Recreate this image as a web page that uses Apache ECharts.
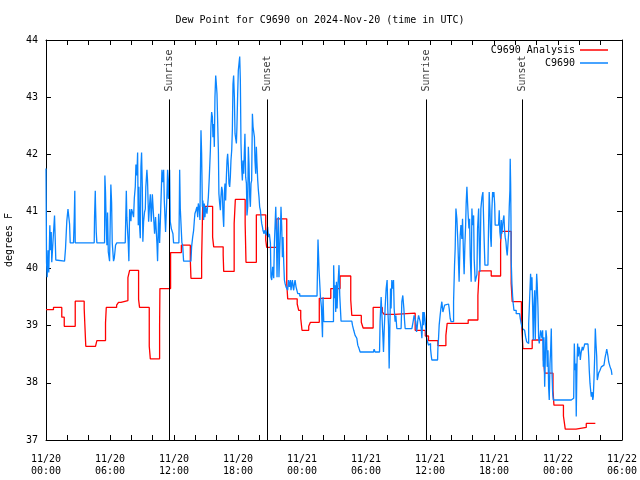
<!DOCTYPE html>
<html><head><meta charset="utf-8">
<script src="https://cdn.jsdelivr.net/npm/echarts@6/dist/echarts.min.js"></script>
<style>html,body{margin:0;padding:0;background:#fff}#c{width:640px;height:480px}</style>
</head><body><div id="c"></div>
<script>
// hours since 2024-11-20 00:00 UTC
const anaHours = [0,0.70,1.48,1.71,2.74,3.58,3.64,3.73,4.64,4.77,5.58,5.65,6.62,6.80,7.02,7.68,7.84,8.68,8.77,9.68,9.78,10.65,10.68,11.68,12.69,13.53,13.59,14.59,14.69,15.62,15.72,16.61,16.66,17.64,17.75,18.67,18.75,19.72,20.60,20.69,21.63,22.57,22.66,23.55,23.69,23.88,24.00,24.63,24.79,25.62,26.70,27.57,28.57,28.67,29.56,29.73,30.67,31.53,31.70,32.67,34.61,35.56,35.86,36.74,37.49,37.61,39.58,40.49,40.61,41.74,42.62,42.68,43.61,43.71,44.57,44.71,45.58,46.64,46.75,47.53,47.62,48.51,48.68,49.69,50.65,51.50];
const anaDewF = [39.28,39.32,39.15,38.99,39.43,39.30,39.03,38.64,38.67,38.74,39.05,39.32,39.36,39.41,39.44,39.84,39.97,39.46,39.32,38.64,38.42,38.99,39.65,40.28,40.41,40.15,39.83,40.15,41.09,40.55,40.38,40.24,39.95,40.79,41.21,40.79,40.11,40.94,40.50,40.37,40.87,39.74,39.47,39.38,39.27,39.13,38.92,38.99,39.06,39.48,39.65,39.87,39.45,39.18,39.06,38.96,39.32,39.24,39.20,39.22,38.92,38.82,38.74,38.65,38.83,39.04,39.10,39.53,39.96,39.87,40.44,40.65,39.74,39.42,39.10,38.60,38.75,38.40,38.17,37.87,37.61,37.42,37.19,37.22,37.29,37.29];

// observed readings: [hour, dew point F]
const obsReadings = [
[0,41.75],[0.05,40.11],[0.11,39.85],[0.19,40.32],[0.26,39.93],[0.36,40.76],[0.42,40.32],[0.49,40.64],[0.54,40.11],[0.66,40.49],[0.80,40.93],[0.92,40.15],[1.08,40.13],[1.74,40.13],[1.83,40.35],[1.95,40.83],[2.06,41.04],[2.14,40.90],[2.21,40.78],[2.27,40.45],[2.58,40.45],[2.65,40.90],[2.70,41.36],[2.74,40.45],
[4.52,40.45],[4.55,40.90],[4.62,41.36],[4.64,41.14],[4.71,40.64],[4.77,40.45],[5.49,40.45],[5.52,41.63],[5.58,41.33],[5.65,40.74],[5.71,40.41],[5.77,40.98],[5.84,40.29],[5.96,40.13],[6.08,41.47],[6.15,41.16],[6.21,40.45],[6.33,40.13],[6.40,40.18],[6.46,40.29],[6.52,40.41],[6.64,40.45],
[7.43,40.45],[7.53,41.36],[7.58,40.90],[7.71,40.45],[7.77,40.13],[7.84,41.04],[7.96,40.83],[8.02,41.04],[8.12,40.98],[8.21,40.90],[8.28,41.23],[8.37,41.43],[8.43,41.82],[8.52,41.63],[8.59,42.03],[8.65,40.76],[8.71,41.43],[8.77,40.76],[8.84,40.53],[8.90,41.78],[8.96,42.03],[9.03,41.43],[9.08,40.47],[9.15,40.82],[9.24,40.99],[9.31,41.04],[9.36,41.43],[9.46,41.73],[9.52,41.53],[9.62,40.82],[9.71,41.11],[9.78,41.30],[9.87,40.82],[9.97,41.30],
[10.09,40.90],[10.18,40.61],[10.27,40.90],[10.40,40.45],[10.46,40.13],[10.56,40.96],[10.65,40.45],[10.72,40.82],[10.87,41.73],[10.93,41.51],[11.03,41.73],[11.09,41.19],[11.21,40.64],[11.28,40.99],[11.34,41.30],[11.40,41.73],[11.47,41.22],[11.59,41.73],[11.65,40.82],[11.75,40.70],[11.84,40.67],[11.90,40.61],[11.96,40.45],[12.46,40.45],[12.50,41.08],[12.53,41.73],[12.59,41.05],[12.74,40.45],[12.81,40.41],[12.90,40.13],[13.18,40.13],
[13.59,40.15],[13.65,40.38],[13.75,40.55],[13.84,40.67],[13.91,40.85],[13.96,40.96],[14.06,41.02],[14.15,41.08],[14.22,40.90],[14.28,41.14],[14.38,41.02],[14.43,40.85],[14.47,41.60],[14.53,42.42],[14.59,42.01],[14.66,41.08],[14.71,41.19],[14.78,40.85],[14.84,41.14],[14.90,40.90],[14.97,41.08],[15.09,40.96],[15.22,41.25],[15.31,41.60],[15.41,42.07],[15.46,42.48],[15.53,42.74],[15.60,42.65],[15.65,42.30],[15.72,42.53],[15.78,42.13],[15.84,43.00],[15.91,43.38],[15.97,43.23],[16.03,43.06],[16.09,42.59],[16.16,42.07],[16.21,41.31],[16.28,41.14],[16.35,41.02],[16.40,41.25],[16.47,41.43],[16.53,41.37],[16.59,40.96],[16.66,40.73],[16.72,41.31],[16.78,41.49],[16.84,41.19],[16.91,41.60],[16.97,41.89],
[17.03,42.01],[17.10,41.78],[17.15,41.49],[17.22,41.43],[17.28,41.60],[17.34,41.89],[17.41,42.07],[17.47,42.42],[17.53,43.23],[17.59,43.38],[17.66,43.00],[17.72,42.36],[17.78,42.36],[17.85,42.19],[17.90,42.48],[17.97,43.06],[18.03,43.47],[18.09,43.58],[18.16,43.71],[18.22,43.29],[18.28,42.19],[18.34,41.78],[18.41,41.54],[18.47,41.89],[18.53,41.66],[18.60,42.07],[18.65,42.36],[18.72,41.60],[18.79,41.49],[18.84,40.93],[18.91,41.08],[18.97,42.13],[19.03,41.84],[19.10,41.25],[19.16,41.08],[19.22,41.49],[19.28,41.54],[19.35,42.71],[19.41,42.48],[19.47,42.48],[19.54,42.30],[19.59,41.89],[19.66,41.66],[19.72,42.13],[19.78,41.84],[19.85,41.54],[19.91,41.37],[19.97,41.25],
[20.03,41.08],[20.10,41.02],[20.16,40.90],[20.22,40.79],[20.29,40.73],[20.34,40.67],[20.44,40.61],[20.53,40.67],[20.66,40.58],[20.78,40.73],[20.85,40.55],[20.94,40.61],[21.04,40.44],[21.09,39.85],[21.16,39.80],[21.25,40.03],[21.35,39.83],[21.41,40.44],[21.47,40.73],[21.54,41.08],[21.60,40.61],[21.66,39.85],[21.72,40.61],[21.79,40.90],[21.84,39.85],[21.91,40.32],[21.98,40.67],[22.03,41.08],[22.10,40.73],[22.16,40.20],[22.22,40.55],[22.29,40.09],[22.35,39.80],[22.41,39.74],[22.50,39.68],[22.66,39.62],[22.73,39.80],[22.82,39.68],[22.91,39.80],[22.97,39.62],[23.04,39.74],[23.10,39.80],[23.16,39.68],[23.22,39.62],[23.29,39.74],[23.35,39.80],[23.44,39.68],[23.60,39.56],[23.79,39.52],
[25.41,39.52],[25.50,40.51],[25.60,39.97],[25.73,39.50],[25.82,39.33],[25.92,38.80],[25.97,39.50],[26.04,39.07],[26.95,39.07],[26.97,40.06],[27.04,39.48],[27.10,39.71],[27.16,39.24],[27.23,39.77],[27.29,39.30],[27.35,39.65],[27.42,39.88],[27.47,40.06],[27.54,39.53],[27.66,39.08],[28.67,39.08],[28.73,39.01],[28.85,38.92],[28.98,38.83],[29.14,38.78],[29.23,38.66],[29.35,38.60],[29.45,38.54],[30.70,38.54],[30.76,38.59],[30.85,38.54],[31.27,38.54],
[31.32,39.07],[31.42,39.50],[31.48,39.24],[31.58,38.83],[31.64,38.54],[31.70,38.89],[31.79,39.30],[31.89,39.65],[31.98,39.80],[32.04,39.30],[32.11,39.01],[32.17,38.25],[32.23,38.89],[32.30,39.65],[32.35,39.30],[32.42,39.80],[32.49,39.65],[32.58,39.80],[32.64,39.30],[32.73,39.07],[32.80,39.18],[32.89,38.95],[33.29,38.95],[33.36,39.42],[33.45,39.53],[33.55,39.30],[33.61,39.10],[33.67,38.95],[34.30,38.95],[34.36,39.01],[34.42,39.07],[34.51,39.18],[34.67,39.07],[34.74,38.89],[34.79,38.95],[34.86,39.10],[34.93,39.18],[34.98,39.21],[35.08,39.07],[35.17,38.95],[35.24,38.78],[35.33,39.24],[35.39,39.01],[35.45,39.24],[35.52,39.13],[35.61,39.13],[35.68,38.78],[35.77,38.72],[35.86,38.66],[35.96,38.69],[36.05,38.60],[36.11,38.49],[36.17,38.40],[36.71,38.40],
[36.74,38.60],[36.80,38.78],[36.86,39.01],[36.95,39.18],[37.02,39.30],[37.11,39.42],[37.21,39.24],[37.30,39.24],[37.37,39.36],[37.42,39.38],[37.74,39.38],[37.80,39.30],[37.89,39.13],[37.98,39.07],[38.12,39.07],[38.21,39.42],[38.30,40.06],[38.36,40.35],[38.43,41.05],[38.52,40.87],[38.61,40.47],[38.68,40.06],[38.73,39.77],[38.83,40.58],[38.90,40.76],[38.99,40.52],[39.05,40.87],[39.15,40.17],[39.20,39.90],[39.27,40.41],[39.34,40.76],[39.39,41.14],[39.46,41.43],[39.52,41.16],[39.58,40.93],[39.65,40.70],[39.71,40.87],[39.77,40.23],[39.86,39.77],[39.93,41.05],[39.99,40.76],[40.09,40.93],[40.14,40.17],[40.24,39.77],[40.40,39.90],[40.46,40.70],[40.56,41.05],[40.61,40.47],[40.68,39.94],
[40.77,41.05],[40.87,41.25],[40.96,41.34],[41.02,40.90],[41.08,40.47],[41.15,40.06],[41.43,40.09],[41.49,40.73],[41.55,41.34],[41.62,41.02],[41.68,40.55],[41.74,40.38],[41.80,41.02],[41.87,41.34],[41.93,41.25],[41.99,41.34],[42.06,41.14],[42.11,40.76],[42.43,40.76],[42.49,41.02],[42.55,40.64],[42.62,40.52],[42.68,40.85],[42.74,40.61],[42.81,40.76],[42.86,40.85],[42.93,40.93],[42.99,40.67],[43.05,40.55],[43.12,40.47],[43.18,40.32],[43.24,40.23],[43.31,40.23],[43.37,40.61],[43.43,41.08],[43.49,41.37],[43.52,41.92],[43.56,41.49],[43.59,40.90],[43.61,40.15],[43.68,39.74],[43.75,39.50],[43.80,39.39],[43.87,39.27],[44.08,39.21],[44.40,39.21],[44.46,39.13],[44.55,39.04],[44.65,38.95],[44.74,38.92],[44.87,38.89],[44.97,38.80],[45.06,38.72],[45.18,38.69],
[45.25,39.04],[45.30,39.27],[45.37,39.62],[45.43,39.91],[45.49,39.62],[45.56,39.85],[45.62,39.33],[45.68,38.75],[45.74,39.33],[45.81,39.62],[45.87,38.75],[45.93,39.39],[46.00,39.91],[46.05,39.74],[46.12,39.33],[46.18,38.80],[46.24,38.69],[46.31,38.80],[46.37,38.92],[46.43,38.86],[46.50,38.78],[46.56,38.92],[46.62,38.28],[46.68,38.80],[46.75,37.93],[46.80,38.34],[46.87,38.92],[46.93,38.80],[46.99,38.28],[47.06,38.57],[47.12,37.93],[47.18,37.70],[47.25,38.34],[47.31,38.57],[47.37,38.95],[47.43,38.22],[47.50,37.82],[47.56,37.70],[49.24,37.70],[49.31,37.71],[49.40,37.73],[49.47,37.76],
[49.53,38.69],[49.59,38.22],[49.66,38.34],[49.71,37.41],[49.78,38.34],[49.84,38.69],[49.90,38.46],[49.97,38.63],[50.03,38.57],[50.09,38.40],[50.16,38.52],[50.22,38.52],[50.28,38.63],[50.34,38.57],[50.44,38.63],[50.50,38.68],[50.81,38.68],[50.88,38.46],[50.93,38.22],[51.00,37.99],[51.06,37.87],[51.12,37.76],[51.19,37.84],[51.26,37.70],[51.31,37.76],[51.37,38.05],[51.44,38.46],[51.50,38.95],[51.56,38.69],[51.63,38.46],[51.68,38.05],[51.75,38.11],[51.81,38.17],[51.87,38.19],[51.94,38.22],[52.00,38.25],[52.06,38.28],[52.19,38.31],[52.31,38.34],[52.38,38.40],[52.43,38.46],[52.50,38.52],[52.57,38.59],[52.62,38.54],[52.69,38.46],[52.75,38.37],[52.81,38.34],[52.88,38.28],[52.94,38.25],[53.00,38.22],[53.06,38.14]
];

const sunHours = [11.59, 20.72, 35.68, 44.65];
const sunLabels = ['Sunrise', 'Sunset', 'Sunrise', 'Sunset'];
const yMin = 37, yMax = 44;
const xMin = 0, xMax = 54;

const FONT = 'DejaVu Sans Mono';
const chart = echarts.init(document.getElementById('c'), null, {renderer: 'canvas'});
const pad = n => (n < 10 ? '0' : '') + n;
const xFmt = v => { const d = 20 + Math.floor(v / 24); const h = v % 24; return '11/' + d + '\n' + pad(h) + ':00'; };

const axisCommon = {
  axisLine: {show: true, onZero: false, lineStyle: {color: '#000', width: 1}},
  axisTick: {show: true, inside: true, length: 5, lineStyle: {color: '#000'}},
  splitLine: {show: false}
};

chart.setOption({
  animation: false,
  backgroundColor: '#fff',
  title: {text: 'Dew Point for C9690 on 2024-Nov-20 (time in UTC)', left: 'center', top: 10,
    textStyle: {fontFamily: FONT, fontSize: 10, fontWeight: 'normal', color: '#000'}},
  legend: [
    {data: ['C9690 Analysis'], orient: 'vertical', right: 27, top: 40, align: 'right', icon: 'rect', itemWidth: 28, itemHeight: 1.5,
      textStyle: {fontFamily: FONT, fontSize: 10, color: '#000'}, selectedMode: false},
    {data: ['C9690'], orient: 'vertical', right: 27, top: 53, align: 'right', icon: 'rect', itemWidth: 28, itemHeight: 1.5,
      textStyle: {fontFamily: FONT, fontSize: 10, color: '#000'}, selectedMode: false}
  ],
  grid: {left: 46, top: 40, width: 576, height: 400, containLabel: false, outerBoundsMode: 'none'},
  xAxis: [
    Object.assign({type: 'value', min: xMin, max: xMax, interval: 6, position: 'bottom',
      minorTick: {show: true, splitNumber: 3, length: 5, lineStyle: {color: '#000'}},
      axisLabel: {formatter: xFmt, fontFamily: FONT, fontSize: 10, color: '#000', lineHeight: 12, margin: 13}}, axisCommon),
    Object.assign({type: 'value', min: xMin, max: xMax, interval: 6, position: 'top',
      minorTick: {show: true, splitNumber: 3, length: 5, lineStyle: {color: '#000'}},
      axisLabel: {show: false}}, axisCommon)
  ],
  yAxis: [
    Object.assign({type: 'value', min: yMin, max: yMax, interval: 1, position: 'left',
      name: 'degrees F', nameLocation: 'middle', nameGap: 32, nameRotate: 90,
      nameTextStyle: {fontFamily: FONT, fontSize: 10, color: '#000'},
      axisLabel: {fontFamily: FONT, fontSize: 10, color: '#000', margin: 8}}, axisCommon),
    Object.assign({type: 'value', min: yMin, max: yMax, interval: 1, position: 'right',
      axisLabel: {show: false}}, axisCommon)
  ],
  series: [
    {name: 'C9690 Analysis', type: 'line', step: 'end', showSymbol: false, symbol: 'none',
      color: '#ff0000', lineStyle: {color: '#ff0000', width: 1.3},
      data: anaHours.map((h, i) => [h, anaDewF[i]]),
      markLine: {silent: true, symbol: ['none', 'none'], label: {show: false},
        lineStyle: {color: '#000', width: 1, type: 'solid'},
        data: sunHours.map(h => [{coord: [h, yMin]}, {coord: [h, 42.96]}])}
    },
    {name: 'C9690', type: 'line', step: 'end', showSymbol: false, symbol: 'none',
      color: '#0a85ff', lineStyle: {color: '#0a85ff', width: 1.3},
      data: obsReadings},
    {name: 'sun', type: 'scatter', symbolSize: 0, silent: true,
      data: sunHours.map((h, i) => ({value: [h, 43.08], name: sunLabels[i]})),
      label: {show: true, position: [0, 0], formatter: p => p.name, rotate: 90, align: 'left', verticalAlign: 'middle',
        offset: [1, 0], fontFamily: FONT, fontSize: 10, color: '#000'}}
  ]
});
</script></body></html>
